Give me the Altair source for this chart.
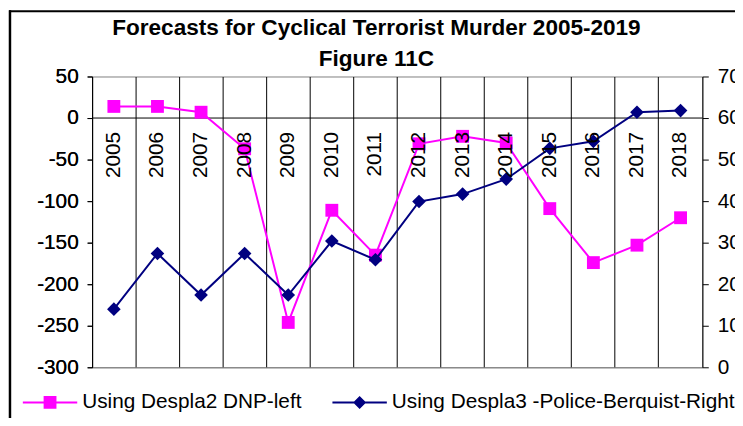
import altair as alt
import pandas as pd

# ---- data ----
years = [str(y) for y in range(2005, 2019)]
pink_vals = [14, 14, 7, -37, -246, -111, -165, -31, -22, -30, -109, -174, -153, -120]
navy_vals = [14, 27.4, 17.4, 27.4, 17.4, 30.4, 25.9, 39.9, 41.7, 45.3, 52.7, 54.4, 61.4, 61.8]
pink_name = "Using Despla2 DNP-left"
navy_name = "Using Despla3 -Police-Berquist-Right"
left_ticks = [-300, -250, -200, -150, -100, -50, 0, 50]
right_ticks = [0, 10, 20, 30, 40, 50, 60, 70]
title_lines = ["Forecasts for Cyclical Terrorist Murder 2005-2019", "Figure 11C"]

FONT = "Liberation Sans"
PINK = "#FF00FF"
NAVY = "#000080"

df_p = pd.DataFrame({"year": years, "value": pink_vals, "series": pink_name, "zero": 0})
df_n = pd.DataFrame({"year": years, "value": navy_vals, "series": navy_name})

# legend symbols: thin bar (line) + marker, filled
PINK_SYM = "M-1,-0.036H1V0.036H-1Z M-0.236,-0.236H0.236V0.236H-0.236Z"
NAVY_SYM = "M-1,-0.036H1V0.036H-1Z M-0.24,0L0,-0.24L0.24,0L0,0.24Z"

x_enc = alt.X(
    "year:O", sort=years,
    scale=alt.Scale(type="band", paddingInner=0, paddingOuter=0),
    axis=alt.Axis(title=None, labels=False, ticks=False, grid=True,
                  gridColor="#000000", gridWidth=1, bandPosition=0,
                  domain=True, domainColor="#808080"),
)

left_scale = alt.Scale(domain=[-300, 50], nice=False, zero=False)
left_axis = alt.Axis(title=None, orient="left", values=left_ticks, grid=False,
                     tickSize=5, tickColor="black", domainColor="black",
                     labelFontSize=21, labelFont=FONT, labelColor="black",
                     labelPadding=9, labelOverlap=False,
                     labelExpr="'' + datum.value")
right_scale = alt.Scale(domain=[0, 70], nice=False, zero=False)
right_axis = alt.Axis(title=None, orient="right", values=right_ticks, grid=False,
                      tickSize=6, tickColor="black", domainColor="black",
                      labelFontSize=21, labelFont=FONT, labelColor="black",
                      labelPadding=9, labelOverlap=False,
                      labelExpr="'' + datum.value")


def make_legend(sym, lx, ly):
    return alt.Legend(title=None, orient="none", legendX=lx, legendY=ly,
                      symbolType=sym, symbolSize=3025, symbolStrokeWidth=0,
                      labelFontSize=21, labelFont=FONT, labelColor="black",
                      labelOffset=5, labelLimit=600, padding=0)


y_left = alt.Y("value:Q", scale=left_scale, axis=left_axis)
y_zero = alt.Y("zero:Q", scale=left_scale, axis=left_axis)
y_right = alt.Y("value:Q", scale=right_scale, axis=right_axis)

pink_line = alt.Chart(df_p).mark_line(color=PINK, strokeWidth=2).encode(x=x_enc, y=y_left)
pink_pts = alt.Chart(df_p).mark_point(filled=True, shape="square", size=169, opacity=1).encode(
    x=x_enc, y=y_left,
    color=alt.Color("series:N", scale=alt.Scale(domain=[pink_name], range=[PINK]),
                    legend=make_legend(PINK_SYM, -70, 302)),
)
zero_rule = alt.Chart(df_p).mark_rule(color="black", strokeWidth=1).encode(y=y_zero).transform_filter(
    alt.datum.year == "2005")
year_text = alt.Chart(df_p).mark_text(angle=270, align="right", baseline="middle", dx=-14,
                                      fontSize=21, font=FONT, color="black").encode(
    x=x_enc, y=y_zero, text="year:N")

frame_left = alt.Chart(alt.Data(values=[{}])).mark_rule(color="black", strokeWidth=2.5).encode(
    x=alt.value(-83), y=alt.value(-67), y2=alt.value(360))
frame_top = alt.Chart(alt.Data(values=[{}])).mark_rule(color="black", strokeWidth=2).encode(
    x=alt.value(-84), x2=alt.value(660), y=alt.value(-66))

left = alt.layer(zero_rule, pink_line, pink_pts, frame_left, frame_top)

navy_line = alt.Chart(df_n).mark_line(color=NAVY, strokeWidth=2).encode(x=x_enc, y=y_right)
navy_pts = alt.Chart(df_n).mark_point(filled=True, shape="diamond", size=190, opacity=1).encode(
    x=x_enc, y=y_right,
    color=alt.Color("series:N", scale=alt.Scale(domain=[navy_name], range=[NAVY]),
                    legend=make_legend(NAVY_SYM, 243, 302)),
)
right = alt.layer(navy_line, navy_pts)

text_layer = alt.layer(year_text)

chart = (
    alt.layer(left, right, text_layer)
    .resolve_scale(y="independent", color="independent")
    .resolve_legend(color="independent")
    .properties(
        width=617, height=294,
        autosize=alt.AutoSizeParams(type="none"),
        padding={"left": 85, "top": 67, "right": 33, "bottom": 49},
        background="white",
        title=alt.TitleParams(text=title_lines, fontSize=22.8, font=FONT, fontWeight="bold",
                              color="black", anchor="middle", frame="group", dx=-21,
                              offset=-62, lineHeight=31),
    )
    .configure_view(stroke="#808080", strokeWidth=1)
)

chart.save("out.html", embed_options={"renderer": "svg", "actions": False})
